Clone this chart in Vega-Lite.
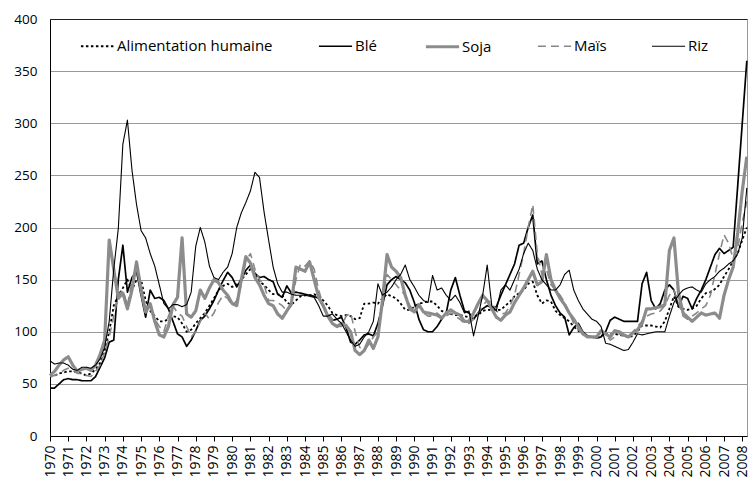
{
"$schema": "https://vega.github.io/schema/vega-lite/v6.json",
"width": 697, "height": 417,
"autosize": {"type": "none"},
"padding": {"left": 50, "top": 19, "right": 1, "bottom": 43},
"config": {"font": "Open Sans", "view": {"stroke": "#999", "strokeWidth": 1}, "background": "white",
  "legend": {"title": null, "orient": "none", "legendX": 29, "legendY": 9, "direction": "horizontal", "columns": 5, "symbolType": "stroke", "symbolSize": 1100, "labelFontSize": 15, "labelColor": "black", "columnPadding": 42, "labelOffset": 1}},
"data": {"values": [
{"t":1970,"Alimentation humaine":57,"Blé":46,"Soja":58,"Maïs":57,"Riz":72},
{"t":1970.25,"Alimentation humaine":58,"Blé":46,"Soja":62,"Maïs":58,"Riz":69},
{"t":1970.5,"Alimentation humaine":60,"Blé":50,"Soja":68,"Maïs":60,"Riz":70},
{"t":1970.75,"Alimentation humaine":61,"Blé":54,"Soja":73,"Maïs":63,"Riz":70},
{"t":1971,"Alimentation humaine":62,"Blé":55,"Soja":76,"Maïs":65,"Riz":68},
{"t":1971.25,"Alimentation humaine":62,"Blé":54,"Soja":68,"Maïs":63,"Riz":64},
{"t":1971.5,"Alimentation humaine":61,"Blé":54,"Soja":62,"Maïs":60,"Riz":63},
{"t":1971.75,"Alimentation humaine":60,"Blé":53,"Soja":64,"Maïs":60,"Riz":66},
{"t":1972,"Alimentation humaine":58,"Blé":53,"Soja":65,"Maïs":58,"Riz":66},
{"t":1972.25,"Alimentation humaine":60,"Blé":53,"Soja":63,"Maïs":57,"Riz":65},
{"t":1972.5,"Alimentation humaine":64,"Blé":57,"Soja":68,"Maïs":62,"Riz":68},
{"t":1972.75,"Alimentation humaine":70,"Blé":66,"Soja":78,"Maïs":68,"Riz":74},
{"t":1973,"Alimentation humaine":82,"Blé":75,"Soja":92,"Maïs":80,"Riz":85},
{"t":1973.25,"Alimentation humaine":100,"Blé":90,"Soja":188,"Maïs":95,"Riz":110},
{"t":1973.5,"Alimentation humaine":125,"Blé":92,"Soja":160,"Maïs":115,"Riz":160},
{"t":1973.75,"Alimentation humaine":135,"Blé":150,"Soja":132,"Maïs":135,"Riz":199},
{"t":1974,"Alimentation humaine":142,"Blé":183,"Soja":137,"Maïs":140,"Riz":280},
{"t":1974.25,"Alimentation humaine":150,"Blé":138,"Soja":122,"Maïs":125,"Riz":303},
{"t":1974.5,"Alimentation humaine":140,"Blé":152,"Soja":140,"Maïs":148,"Riz":255},
{"t":1974.75,"Alimentation humaine":150,"Blé":158,"Soja":167,"Maïs":165,"Riz":222},
{"t":1975,"Alimentation humaine":150,"Blé":135,"Soja":140,"Maïs":145,"Riz":197},
{"t":1975.25,"Alimentation humaine":130,"Blé":114,"Soja":119,"Maïs":118,"Riz":190},
{"t":1975.5,"Alimentation humaine":120,"Blé":140,"Soja":127,"Maïs":125,"Riz":175},
{"t":1975.75,"Alimentation humaine":115,"Blé":132,"Soja":110,"Maïs":112,"Riz":163},
{"t":1976,"Alimentation humaine":110,"Blé":133,"Soja":97,"Maïs":105,"Riz":145},
{"t":1976.25,"Alimentation humaine":110,"Blé":130,"Soja":95,"Maïs":100,"Riz":127},
{"t":1976.5,"Alimentation humaine":112,"Blé":122,"Soja":105,"Maïs":115,"Riz":122},
{"t":1976.75,"Alimentation humaine":115,"Blé":110,"Soja":126,"Maïs":125,"Riz":126},
{"t":1977,"Alimentation humaine":114,"Blé":98,"Soja":133,"Maïs":118,"Riz":126},
{"t":1977.25,"Alimentation humaine":108,"Blé":95,"Soja":190,"Maïs":115,"Riz":124},
{"t":1977.5,"Alimentation humaine":100,"Blé":86,"Soja":117,"Maïs":105,"Riz":126},
{"t":1977.75,"Alimentation humaine":102,"Blé":92,"Soja":114,"Maïs":95,"Riz":138},
{"t":1978,"Alimentation humaine":108,"Blé":101,"Soja":120,"Maïs":100,"Riz":182},
{"t":1978.25,"Alimentation humaine":113,"Blé":111,"Soja":140,"Maïs":110,"Riz":200},
{"t":1978.5,"Alimentation humaine":118,"Blé":115,"Soja":132,"Maïs":118,"Riz":186},
{"t":1978.75,"Alimentation humaine":125,"Blé":122,"Soja":142,"Maïs":112,"Riz":163},
{"t":1979,"Alimentation humaine":132,"Blé":130,"Soja":150,"Maïs":118,"Riz":152},
{"t":1979.25,"Alimentation humaine":140,"Blé":140,"Soja":147,"Maïs":128,"Riz":150},
{"t":1979.5,"Alimentation humaine":144,"Blé":149,"Soja":140,"Maïs":135,"Riz":157},
{"t":1979.75,"Alimentation humaine":146,"Blé":157,"Soja":135,"Maïs":132,"Riz":162},
{"t":1980,"Alimentation humaine":143,"Blé":152,"Soja":127,"Maïs":125,"Riz":175},
{"t":1980.25,"Alimentation humaine":145,"Blé":143,"Soja":125,"Maïs":130,"Riz":200},
{"t":1980.5,"Alimentation humaine":150,"Blé":150,"Soja":150,"Maïs":145,"Riz":214},
{"t":1980.75,"Alimentation humaine":155,"Blé":159,"Soja":172,"Maïs":168,"Riz":224},
{"t":1981,"Alimentation humaine":160,"Blé":164,"Soja":166,"Maïs":175,"Riz":235},
{"t":1981.25,"Alimentation humaine":155,"Blé":156,"Soja":152,"Maïs":160,"Riz":253},
{"t":1981.5,"Alimentation humaine":148,"Blé":152,"Soja":145,"Maïs":150,"Riz":248},
{"t":1981.75,"Alimentation humaine":145,"Blé":153,"Soja":135,"Maïs":145,"Riz":215},
{"t":1982,"Alimentation humaine":140,"Blé":150,"Soja":127,"Maïs":130,"Riz":188},
{"t":1982.25,"Alimentation humaine":136,"Blé":148,"Soja":125,"Maïs":130,"Riz":162},
{"t":1982.5,"Alimentation humaine":136,"Blé":136,"Soja":117,"Maïs":128,"Riz":146},
{"t":1982.75,"Alimentation humaine":135,"Blé":133,"Soja":113,"Maïs":125,"Riz":138},
{"t":1983,"Alimentation humaine":128,"Blé":144,"Soja":120,"Maïs":120,"Riz":138},
{"t":1983.25,"Alimentation humaine":126,"Blé":137,"Soja":127,"Maïs":125,"Riz":136},
{"t":1983.5,"Alimentation humaine":130,"Blé":138,"Soja":162,"Maïs":150,"Riz":135},
{"t":1983.75,"Alimentation humaine":134,"Blé":137,"Soja":160,"Maïs":165,"Riz":135},
{"t":1984,"Alimentation humaine":135,"Blé":136,"Soja":158,"Maïs":163,"Riz":135},
{"t":1984.25,"Alimentation humaine":135,"Blé":135,"Soja":167,"Maïs":168,"Riz":134},
{"t":1984.5,"Alimentation humaine":136,"Blé":134,"Soja":150,"Maïs":160,"Riz":133},
{"t":1984.75,"Alimentation humaine":134,"Blé":132,"Soja":133,"Maïs":140,"Riz":125},
{"t":1985,"Alimentation humaine":130,"Blé":124,"Soja":125,"Maïs":125,"Riz":115},
{"t":1985.25,"Alimentation humaine":125,"Blé":115,"Soja":115,"Maïs":118,"Riz":115},
{"t":1985.5,"Alimentation humaine":118,"Blé":111,"Soja":108,"Maïs":112,"Riz":117},
{"t":1985.75,"Alimentation humaine":116,"Blé":112,"Soja":105,"Maïs":105,"Riz":112},
{"t":1986,"Alimentation humaine":115,"Blé":114,"Soja":108,"Maïs":105,"Riz":108},
{"t":1986.25,"Alimentation humaine":116,"Blé":104,"Soja":106,"Maïs":115,"Riz":100},
{"t":1986.5,"Alimentation humaine":115,"Blé":90,"Soja":100,"Maïs":118,"Riz":92},
{"t":1986.75,"Alimentation humaine":112,"Blé":88,"Soja":82,"Maïs":100,"Riz":86},
{"t":1987,"Alimentation humaine":113,"Blé":92,"Soja":78,"Maïs":85,"Riz":88},
{"t":1987.25,"Alimentation humaine":127,"Blé":97,"Soja":82,"Maïs":82,"Riz":95},
{"t":1987.5,"Alimentation humaine":127,"Blé":98,"Soja":92,"Maïs":88,"Riz":100},
{"t":1987.75,"Alimentation humaine":128,"Blé":96,"Soja":84,"Maïs":95,"Riz":110},
{"t":1988,"Alimentation humaine":127,"Blé":108,"Soja":95,"Maïs":100,"Riz":146},
{"t":1988.25,"Alimentation humaine":132,"Blé":125,"Soja":130,"Maïs":130,"Riz":135},
{"t":1988.5,"Alimentation humaine":136,"Blé":145,"Soja":174,"Maïs":155,"Riz":138},
{"t":1988.75,"Alimentation humaine":134,"Blé":150,"Soja":162,"Maïs":150,"Riz":143},
{"t":1989,"Alimentation humaine":132,"Blé":153,"Soja":158,"Maïs":145,"Riz":150},
{"t":1989.25,"Alimentation humaine":127,"Blé":150,"Soja":152,"Maïs":140,"Riz":155},
{"t":1989.5,"Alimentation humaine":121,"Blé":147,"Soja":135,"Maïs":135,"Riz":164},
{"t":1989.75,"Alimentation humaine":121,"Blé":140,"Soja":122,"Maïs":125,"Riz":150},
{"t":1990,"Alimentation humaine":124,"Blé":128,"Soja":119,"Maïs":120,"Riz":143},
{"t":1990.25,"Alimentation humaine":127,"Blé":112,"Soja":126,"Maïs":125,"Riz":135},
{"t":1990.5,"Alimentation humaine":128,"Blé":102,"Soja":119,"Maïs":118,"Riz":130},
{"t":1990.75,"Alimentation humaine":129,"Blé":100,"Soja":118,"Maïs":115,"Riz":128},
{"t":1991,"Alimentation humaine":129,"Blé":100,"Soja":117,"Maïs":115,"Riz":154},
{"t":1991.25,"Alimentation humaine":125,"Blé":105,"Soja":116,"Maïs":118,"Riz":140},
{"t":1991.5,"Alimentation humaine":120,"Blé":112,"Soja":113,"Maïs":114,"Riz":142},
{"t":1991.75,"Alimentation humaine":118,"Blé":118,"Soja":118,"Maïs":115,"Riz":135},
{"t":1992,"Alimentation humaine":117,"Blé":140,"Soja":121,"Maïs":118,"Riz":130},
{"t":1992.25,"Alimentation humaine":116,"Blé":152,"Soja":118,"Maïs":115,"Riz":135},
{"t":1992.5,"Alimentation humaine":116,"Blé":135,"Soja":116,"Maïs":112,"Riz":128},
{"t":1992.75,"Alimentation humaine":115,"Blé":120,"Soja":110,"Maïs":108,"Riz":118},
{"t":1993,"Alimentation humaine":114,"Blé":118,"Soja":110,"Maïs":108,"Riz":120},
{"t":1993.25,"Alimentation humaine":115,"Blé":112,"Soja":118,"Maïs":112,"Riz":96},
{"t":1993.5,"Alimentation humaine":116,"Blé":118,"Soja":127,"Maïs":118,"Riz":115},
{"t":1993.75,"Alimentation humaine":120,"Blé":122,"Soja":135,"Maïs":125,"Riz":135},
{"t":1994,"Alimentation humaine":121,"Blé":125,"Soja":130,"Maïs":130,"Riz":164},
{"t":1994.25,"Alimentation humaine":121,"Blé":123,"Soja":122,"Maïs":128,"Riz":125},
{"t":1994.5,"Alimentation humaine":121,"Blé":124,"Soja":114,"Maïs":120,"Riz":120},
{"t":1994.75,"Alimentation humaine":121,"Blé":135,"Soja":111,"Maïs":117,"Riz":140},
{"t":1995,"Alimentation humaine":125,"Blé":145,"Soja":116,"Maïs":118,"Riz":145},
{"t":1995.25,"Alimentation humaine":129,"Blé":155,"Soja":119,"Maïs":125,"Riz":140},
{"t":1995.5,"Alimentation humaine":134,"Blé":165,"Soja":128,"Maïs":135,"Riz":150},
{"t":1995.75,"Alimentation humaine":137,"Blé":183,"Soja":135,"Maïs":155,"Riz":160},
{"t":1996,"Alimentation humaine":140,"Blé":185,"Soja":142,"Maïs":175,"Riz":175},
{"t":1996.25,"Alimentation humaine":146,"Blé":200,"Soja":150,"Maïs":200,"Riz":185},
{"t":1996.5,"Alimentation humaine":148,"Blé":212,"Soja":158,"Maïs":222,"Riz":178},
{"t":1996.75,"Alimentation humaine":135,"Blé":165,"Soja":145,"Maïs":175,"Riz":160},
{"t":1997,"Alimentation humaine":127,"Blé":168,"Soja":148,"Maïs":155,"Riz":150},
{"t":1997.25,"Alimentation humaine":130,"Blé":150,"Soja":174,"Maïs":160,"Riz":145},
{"t":1997.5,"Alimentation humaine":129,"Blé":135,"Soja":150,"Maïs":145,"Riz":140},
{"t":1997.75,"Alimentation humaine":120,"Blé":125,"Soja":140,"Maïs":140,"Riz":140},
{"t":1998,"Alimentation humaine":116,"Blé":118,"Soja":132,"Maïs":135,"Riz":145},
{"t":1998.25,"Alimentation humaine":113,"Blé":114,"Soja":126,"Maïs":128,"Riz":155},
{"t":1998.5,"Alimentation humaine":110,"Blé":97,"Soja":118,"Maïs":118,"Riz":159},
{"t":1998.75,"Alimentation humaine":105,"Blé":104,"Soja":112,"Maïs":108,"Riz":140},
{"t":1999,"Alimentation humaine":101,"Blé":108,"Soja":105,"Maïs":102,"Riz":130},
{"t":1999.25,"Alimentation humaine":98,"Blé":100,"Soja":98,"Maïs":98,"Riz":122},
{"t":1999.5,"Alimentation humaine":96,"Blé":96,"Soja":95,"Maïs":96,"Riz":117},
{"t":1999.75,"Alimentation humaine":95,"Blé":95,"Soja":95,"Maïs":95,"Riz":112},
{"t":2000,"Alimentation humaine":95,"Blé":94,"Soja":95,"Maïs":95,"Riz":110},
{"t":2000.25,"Alimentation humaine":96,"Blé":95,"Soja":101,"Maïs":100,"Riz":105},
{"t":2000.5,"Alimentation humaine":98,"Blé":100,"Soja":98,"Maïs":97,"Riz":89},
{"t":2000.75,"Alimentation humaine":98,"Blé":111,"Soja":95,"Maïs":92,"Riz":88},
{"t":2001,"Alimentation humaine":98,"Blé":114,"Soja":101,"Maïs":95,"Riz":86},
{"t":2001.25,"Alimentation humaine":97,"Blé":112,"Soja":100,"Maïs":98,"Riz":84},
{"t":2001.5,"Alimentation humaine":96,"Blé":110,"Soja":97,"Maïs":96,"Riz":82},
{"t":2001.75,"Alimentation humaine":95,"Blé":110,"Soja":95,"Maïs":95,"Riz":83},
{"t":2002,"Alimentation humaine":96,"Blé":110,"Soja":99,"Maïs":100,"Riz":90},
{"t":2002.25,"Alimentation humaine":100,"Blé":110,"Soja":102,"Maïs":105,"Riz":98},
{"t":2002.5,"Alimentation humaine":106,"Blé":146,"Soja":108,"Maïs":110,"Riz":97},
{"t":2002.75,"Alimentation humaine":106,"Blé":157,"Soja":122,"Maïs":115,"Riz":98},
{"t":2003,"Alimentation humaine":106,"Blé":130,"Soja":122,"Maïs":117,"Riz":99},
{"t":2003.25,"Alimentation humaine":105,"Blé":122,"Soja":123,"Maïs":118,"Riz":100},
{"t":2003.5,"Alimentation humaine":104,"Blé":127,"Soja":124,"Maïs":120,"Riz":100},
{"t":2003.75,"Alimentation humaine":110,"Blé":140,"Soja":126,"Maïs":125,"Riz":100},
{"t":2004,"Alimentation humaine":122,"Blé":145,"Soja":178,"Maïs":135,"Riz":115},
{"t":2004.25,"Alimentation humaine":134,"Blé":140,"Soja":190,"Maïs":140,"Riz":128},
{"t":2004.5,"Alimentation humaine":124,"Blé":124,"Soja":137,"Maïs":128,"Riz":135},
{"t":2004.75,"Alimentation humaine":122,"Blé":134,"Soja":118,"Maïs":115,"Riz":140},
{"t":2005,"Alimentation humaine":121,"Blé":132,"Soja":114,"Maïs":112,"Riz":142},
{"t":2005.25,"Alimentation humaine":122,"Blé":122,"Soja":110,"Maïs":115,"Riz":143},
{"t":2005.5,"Alimentation humaine":125,"Blé":132,"Soja":114,"Maïs":118,"Riz":140},
{"t":2005.75,"Alimentation humaine":132,"Blé":140,"Soja":118,"Maïs":122,"Riz":138},
{"t":2006,"Alimentation humaine":137,"Blé":150,"Soja":116,"Maïs":125,"Riz":146},
{"t":2006.25,"Alimentation humaine":138,"Blé":162,"Soja":117,"Maïs":135,"Riz":150},
{"t":2006.5,"Alimentation humaine":141,"Blé":174,"Soja":118,"Maïs":155,"Riz":153},
{"t":2006.75,"Alimentation humaine":145,"Blé":180,"Soja":113,"Maïs":175,"Riz":158},
{"t":2007,"Alimentation humaine":153,"Blé":175,"Soja":135,"Maïs":193,"Riz":161},
{"t":2007.25,"Alimentation humaine":160,"Blé":178,"Soja":150,"Maïs":185,"Riz":165},
{"t":2007.5,"Alimentation humaine":168,"Blé":181,"Soja":162,"Maïs":170,"Riz":168},
{"t":2007.75,"Alimentation humaine":175,"Blé":240,"Soja":195,"Maïs":180,"Riz":175},
{"t":2008,"Alimentation humaine":188,"Blé":300,"Soja":235,"Maïs":205,"Riz":190},
{"t":2008.25,"Alimentation humaine":200,"Blé":360,"Soja":268,"Maïs":225,"Riz":238}
]},
"transform": [{"fold": ["Alimentation humaine", "Blé", "Soja", "Maïs", "Riz"], "as": ["serie", "valeur"]}],
"mark": {"type": "line", "strokeJoin": "round"},
"encoding": {
  "x": {"field": "t", "type": "quantitative",
        "scale": {"domain": [1970, 2008.26], "nice": false, "zero": false},
        "axis": {"values": [1970,1971,1972,1973,1974,1975,1976,1977,1978,1979,1980,1981,1982,1983,1984,1985,1986,1987,1988,1989,1990,1991,1992,1993,1994,1995,1996,1997,1998,1999,2000,2001,2002,2003,2004,2005,2006,2007,2008],
                 "format": "d", "labelAngle": 270, "tickSize": 5, "tickColor": "black", "domainColor": "black",
                 "labelFontSize": 14, "labelColor": "black", "labelPadding": 4, "grid": false, "title": null,
                 "labelOverlap": false, "labelFlush": false}},
  "y": {"field": "valeur", "type": "quantitative",
        "scale": {"domain": [0, 400], "nice": false},
        "axis": {"values": [0,50,100,150,200,250,300,350,400], "tickSize": 0, "labelPadding": 13, "grid": true,
                 "gridColor": {"condition": {"test": "datum.value == 400", "value": "#222"}, "value": "#999"},
                 "domainColor": "black", "labelFontSize": 13.5, "labelColor": "black", "title": null, "labelFlush": false}},
  "color": {"field": "serie", "type": "nominal",
            "scale": {"domain": ["Alimentation humaine", "Blé", "Soja", "Maïs", "Riz"], "range": ["#000000", "#000000", "#8c8c8c", "#878787", "#000000"]}},
  "strokeDash": {"field": "serie", "type": "nominal",
            "scale": {"domain": ["Alimentation humaine", "Blé", "Soja", "Maïs", "Riz"], "range": [[2.5, 2.5], [1, 0], [1, 0], [8, 5], [1, 0]]}},
  "strokeWidth": {"field": "serie", "type": "nominal",
            "scale": {"type": "ordinal", "domain": ["Alimentation humaine", "Blé", "Soja", "Maïs", "Riz"], "range": [1.8, 1.7, 3.2, 1.6, 1.1]}}
}
}
